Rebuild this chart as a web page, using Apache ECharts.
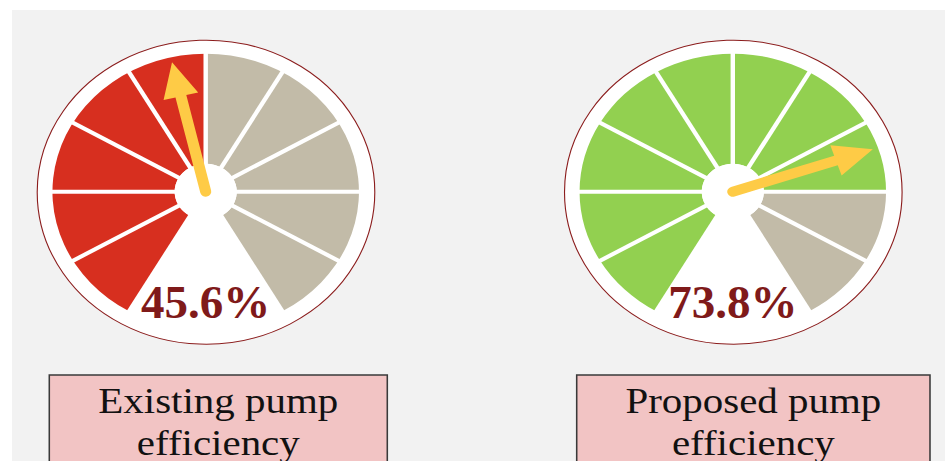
<!DOCTYPE html>
<html>
<head>
<meta charset="utf-8">
<script src="https://cdn.jsdelivr.net/npm/echarts@6/dist/echarts.min.js"></script>
<style>
  html, body { margin: 0; padding: 0; background: #ffffff; overflow: hidden; }
  #wrap { position: relative; width: 945px; height: 461px; overflow: hidden; }
  #chart { position: absolute; left: 0; top: 0; height: 461px; transform-origin: 0 0; }
</style>
</head>
<body>
<div id="wrap"><div id="chart"></div></div>
<script>
// ---- data ----
const categories = ['Existing pump\nefficiency', 'Proposed pump\nefficiency'];
const efficiency = [45.6, 73.8];            // percent
const litColors = ['#d72f1f', '#92d050'];   // filled segments of each dial
const restColor = '#c2bba8';                // unfilled segments
const pointerColor = '#fecb46';

// ---- layout (page pixels) ----
// The dials are drawn round on a narrower canvas that is then widened,
// which turns them into the oval dials; texts are counter-scaled.
const PAGE_W = 945, LAYER_W = 851;
const SX = PAGE_W / LAYER_W;
const dialCX = [205.7, 732.8];
const dialCY = 191.7;
const rimCX = [206, 733.3];
const rimCY = 192.2;
const boxL = [49.3, 576.7];
const boxR = [387.3, 930];

const el = document.getElementById('chart');
el.style.width = LAYER_W + 'px';
el.style.transform = 'scaleX(' + SX + ')';

const chart = echarts.init(el, null, { renderer: 'svg' });

const arrowPath = 'path://M16,0 L32,35 L21,35 L21,133 A5,5 0 0 1 11,133 L11,35 L0,35 Z';

const series = efficiency.map((v, i) => ({
  type: 'gauge',
  center: [dialCX[i] / SX, dialCY],
  radius: 138,
  startAngle: 240,
  endAngle: -60,
  min: 0,
  max: 100,
  splitNumber: 10,
  axisLine: {
    lineStyle: {
      width: 110,
      color: [[Math.ceil(v / 10) / 10, litColors[i]], [1, restColor]]
    }
  },
  splitLine: { distance: -112, length: 116, lineStyle: { color: '#ffffff', width: 4 } },
  axisTick: { show: false },
  axisLabel: { show: false },
  pointer: {
    icon: arrowPath,
    length: 138,
    width: 32,
    offsetCenter: [0, 5],
    itemStyle: { color: pointerColor }
  },
  anchor: {
    show: true,
    showAbove: false,
    icon: 'circle',
    size: 56,
    itemStyle: { color: '#ffffff' }
  },
  title: { show: false },
  detail: { show: false },
  animation: false,
  data: [{ value: v }]
}));

const graphic = [
  // panel
  { type: 'rect', z: 0, silent: true,
    shape: { x: 12 / SX, y: 10, width: (PAGE_W - 12) / SX, height: 460 },
    style: { fill: '#f2f2f2' } }
];

efficiency.forEach((v, i) => {
  // rim of each dial
  graphic.push({ type: 'circle', z: 0, silent: true,
    shape: { cx: rimCX[i] / SX, cy: rimCY, r: 152 },
    style: { fill: '#ffffff', stroke: '#8b1c1c', lineWidth: 1 } });
  // caption box
  graphic.push({ type: 'rect', z: 0, silent: true,
    shape: { x: boxL[i] / SX, y: 375, width: (boxR[i] - boxL[i]) / SX, height: 120 },
    style: { fill: '#f2c4c4', stroke: '#3a3a3a', lineWidth: 1.4 } });
  graphic.push({ type: 'text', z: 1, silent: true,
    x: (boxL[i] + boxR[i]) / 2 / SX, y: 380, scaleX: 1.17 / SX,
    style: { text: categories[i], fill: '#111111',
      fontSize: 35, fontFamily: 'Liberation Serif', lineHeight: 42,
      align: 'center', verticalAlign: 'top', textAlign: 'center', textVerticalAlign: 'top' } });
  // value readout
  graphic.push({ type: 'text', z: 10, silent: true,
    x: dialCX[i] / SX, y: 302, scaleX: 1 / SX,
    style: { text: v.toFixed(1) + '%', fill: '#7f1a1a',
      fontSize: 47, fontWeight: 'bold', fontFamily: 'Liberation Serif',
      align: 'center', verticalAlign: 'middle', textAlign: 'center', textVerticalAlign: 'middle' } });
});

chart.setOption({
  backgroundColor: 'transparent',
  animation: false,
  graphic: graphic,
  series: series
});
</script>
</body>
</html>
